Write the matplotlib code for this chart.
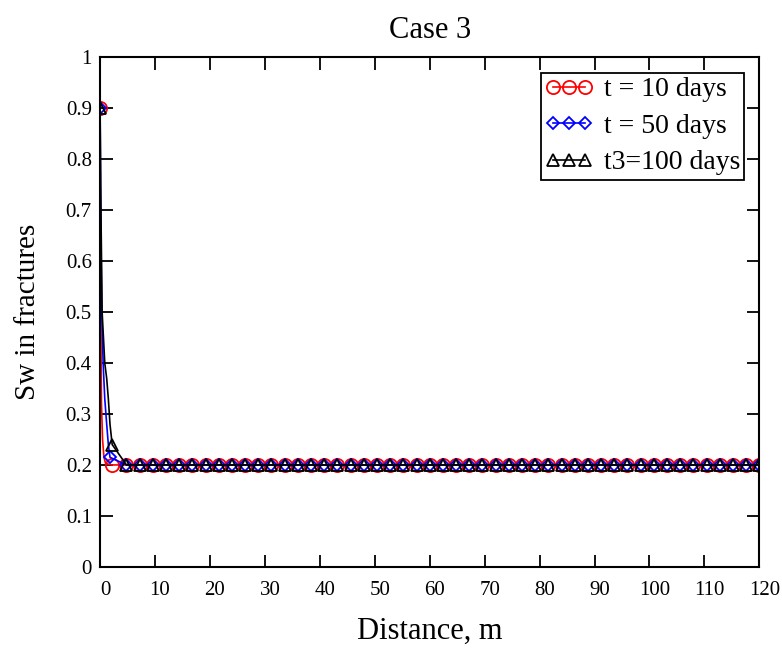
import matplotlib
matplotlib.use("Agg")
import matplotlib.pyplot as plt
import matplotlib.transforms as mtransforms
import numpy as np

plt.rcParams['font.family'] = ['Liberation Serif', 'DejaVu Serif']

# near-well part of each profile (finer points), then the regular grid
far_x = list(np.arange(4.8, 120.01, 2.4))
far_y = [0.2] * len(far_x)

x10 = [0, 0.12, 0.25, 0.45, 0.7, 1.0, 2.1] + far_x
sw10 = [0.9, 0.5, 0.32, 0.25, 0.215, 0.203, 0.2] + far_y

x50 = [0, 0.1, 0.3, 0.55, 0.85, 1.2, 1.5, 1.8] + far_x
sw50 = [0.9, 0.7, 0.5, 0.4, 0.33, 0.28, 0.24, 0.215] + far_y

x100 = [0, 0.1, 0.37, 0.85, 1.2, 1.5, 1.8, 2.2] + far_x
sw100 = [0.9, 0.75, 0.5, 0.4, 0.37, 0.33, 0.28, 0.24] + far_y

labels = ["t = 10 days", "t = 50 days", "t3=100 days"]

fig = plt.figure(figsize=(7.82, 6.53), dpi=100)
ax = fig.add_axes([0.128, 0.132, 0.843, 0.780])

# markers only on the well point and the regular grid points
m10 = [0] + list(range(6, len(x10)))
m50 = [0] + list(range(7, len(x50)))
m100 = [0] + list(range(7, len(x100)))

ax.plot(x10, sw10, color='red', lw=1.2, marker='o', ms=9.5, mfc='none',
        mew=1.3, markevery=m10, label=labels[0])
ax.plot(x50, sw50, color='blue', lw=1.2, marker='D', ms=6.5, mfc='none',
        mew=1.3, markevery=m50, label=labels[1])
ax.plot(x100, sw100, color='black', lw=1.2, marker='^', ms=8, mfc='none',
        mew=1.3, markevery=m100, label=labels[2])

ax.set_xlim(0, 120)
ax.set_ylim(0, 1)
ax.set_xticks(np.arange(0, 121, 10))
ax.set_yticks(np.arange(0, 1.01, 0.1))
ax.set_yticklabels(['0'] + ['%.1f' % v for v in np.arange(0.1, 0.95, 0.1)] + ['1'])
ax.tick_params(direction='in', length=9, width=1.3, top=True, right=True,
               labelsize=15)
ax.tick_params(axis='x', pad=10)
ax.tick_params(axis='y', pad=6)
shift = mtransforms.ScaledTranslation(5 / 100, 0, fig.dpi_scale_trans)
for lbl in ax.get_xticklabels():
    lbl.set_transform(lbl.get_transform() + shift)
for s in ax.spines.values():
    s.set_linewidth(1.5)

ax.set_title("Case 3", fontsize=22, pad=14)
ax.set_xlabel("Distance, m", fontsize=22, labelpad=12)
ax.set_ylabel("Sw in fractures", fontsize=21, labelpad=18)

leg = ax.legend(loc='upper right', numpoints=3, fontsize=20, fancybox=False,
                framealpha=1, handlelength=1.75, handletextpad=0.36,
                borderpad=0.15, labelspacing=0.4, borderaxespad=0.55)
leg.get_frame().set_edgecolor('black')
leg.get_frame().set_linewidth(1.3)

fig.savefig("out.png", dpi=100)
